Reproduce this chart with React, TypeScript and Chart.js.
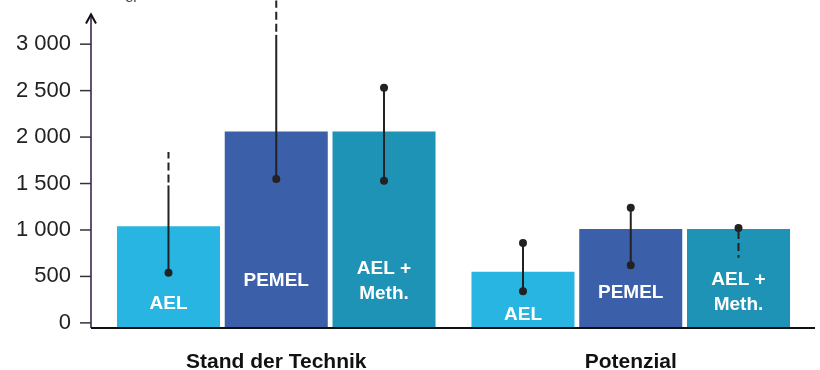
import React, { useEffect, useRef } from "react";
import { Chart, registerables } from "chart.js";

Chart.register(...registerables);

// ---- data ----
const CATEGORIES = ["Stand der Technik", "Potenzial"];
const SERIES = ["AEL", "PEMEL", "AEL + Meth."];
const BAR_TEXT = [["AEL"], ["PEMEL"], ["AEL +", "Meth."]];

const AEL = [1040, 550];
const PEMEL = [2060, 1010];
const AEL_METH = [2060, 1010];

// ranges (solid part), with dashed extensions
const AEL_LOW = [540, 340];
const AEL_HIGH = [1480, 860];
const AEL_DASH_HIGH: (number | null)[] = [1840, null];
const AEL_DASH_LOW: (number | null)[] = [null, null];

const PEMEL_LOW = [1550, 620];
const PEMEL_HIGH = [3100, 1240];
const PEMEL_DASH_HIGH: (number | null)[] = [3470, null];
const PEMEL_DASH_LOW: (number | null)[] = [null, null];

const METH_LOW = [1530, 1020];
const METH_HIGH = [2530, 1020];
const METH_DASH_HIGH: (number | null)[] = [null, null];
const METH_DASH_LOW: (number | null)[] = [null, 700];

const Y_TICKS = [0, 500, 1000, 1500, 2000, 2500, 3000];
const Y_MIN = -55;
const Y_MAX = 3400;
const AXIS_TOP = 3320;

const UNIT_TEXT = "in €/kW";
const UNIT_SUB = "el";

const COLORS = ["#29b5e1", "#3b5fa8", "#1e93b6"];

const LOWS = [AEL_LOW, PEMEL_LOW, METH_LOW];
const HIGHS = [AEL_HIGH, PEMEL_HIGH, METH_HIGH];
const DASH_HIGHS = [AEL_DASH_HIGH, PEMEL_DASH_HIGH, METH_DASH_HIGH];
const DASH_LOWS = [AEL_DASH_LOW, PEMEL_DASH_LOW, METH_DASH_LOW];

// label lift above bar base, per category then per series (px)
const LABEL_LIFT = [
  [24, 47, 47],
  [13, 35, 36],
];

const FONT = "'Liberation Sans', Arial, Helvetica, sans-serif";

function fmt(v: number) {
  return String(v).replace(/\B(?=(\d{3})+(?!\d))/g, " ");
}

const overlay = {
  id: "overlay",
  afterDatasetsDraw(chart: any) {
    const ctx = chart.ctx as CanvasRenderingContext2D;
    const ys = chart.scales.y;
    const area = chart.chartArea;
    ctx.save();

    // labels inside bars
    ctx.fillStyle = "#ffffff";
    ctx.font = `bold 19px ${FONT}`;
    ctx.textAlign = "center";
    ctx.textBaseline = "middle";
    chart.data.datasets.forEach((_ds: any, i: number) => {
      const meta = chart.getDatasetMeta(i);
      meta.data.forEach((bar: any, j: number) => {
        const lines = BAR_TEXT[i];
        const center = bar.base - LABEL_LIFT[j][i];
        lines.forEach((t, k) => {
          ctx.fillText(t, bar.x, center + (k - (lines.length - 1) / 2) * 25);
        });
      });
    });

    // range markers
    ctx.strokeStyle = "#222222";
    ctx.fillStyle = "#222222";
    ctx.lineWidth = 2;
    chart.data.datasets.forEach((_ds: any, i: number) => {
      const meta = chart.getDatasetMeta(i);
      meta.data.forEach((bar: any, j: number) => {
        const x = bar.x;
        const lo = LOWS[i][j];
        const hi = HIGHS[i][j];
        const dh = DASH_HIGHS[i][j];
        const dl = DASH_LOWS[i][j];
        const pLo = ys.getPixelForValue(lo);
        const pHi = ys.getPixelForValue(hi);
        ctx.setLineDash([]);
        ctx.beginPath();
        ctx.moveTo(x, pLo);
        ctx.lineTo(x, pHi);
        ctx.stroke();
        ctx.setLineDash([8, 4]);
        if (dh != null) {
          ctx.beginPath();
          ctx.moveTo(x, pHi - 3);
          ctx.lineTo(x, ys.getPixelForValue(dh));
          ctx.stroke();
        }
        if (dl != null) {
          ctx.beginPath();
          ctx.moveTo(x, pLo + 3);
          ctx.lineTo(x, ys.getPixelForValue(dl));
          ctx.stroke();
        }
        ctx.setLineDash([]);
        if (dl == null) {
          ctx.beginPath();
          ctx.arc(x, pLo, 4, 0, Math.PI * 2);
          ctx.fill();
        }
        if (dh == null) {
          ctx.beginPath();
          ctx.arc(x, pHi, 4, 0, Math.PI * 2);
          ctx.fill();
        }
      });
    });

    // axes
    const axisX = area.left - 8;
    const baseY = ys.getPixelForValue(Y_MIN);
    const tipY = ys.getPixelForValue(AXIS_TOP);
    ctx.strokeStyle = "#3d2550";
    ctx.lineWidth = 1.6;
    ctx.beginPath();
    ctx.moveTo(axisX, baseY);
    ctx.lineTo(axisX, tipY + 1);
    ctx.stroke();
    ctx.strokeStyle = "#111111";
    ctx.lineWidth = 2;
    ctx.beginPath();
    ctx.moveTo(axisX - 5, tipY + 9);
    ctx.lineTo(axisX, tipY);
    ctx.lineTo(axisX + 5, tipY + 9);
    ctx.stroke();

    ctx.strokeStyle = "#333333";
    ctx.lineWidth = 1.5;
    Y_TICKS.forEach((v) => {
      const py = ys.getPixelForValue(v);
      ctx.beginPath();
      ctx.moveTo(axisX - 11, py);
      ctx.lineTo(axisX, py);
      ctx.stroke();
    });

    ctx.strokeStyle = "#111111";
    ctx.lineWidth = 2;
    ctx.beginPath();
    ctx.moveTo(axisX, baseY);
    ctx.lineTo(chart.width - 5, baseY);
    ctx.stroke();

    // clipped unit text at top
    ctx.fillStyle = "#444444";
    ctx.textAlign = "right";
    ctx.textBaseline = "alphabetic";
    ctx.font = `20px ${FONT}`;
    ctx.fillText(UNIT_TEXT, axisX + 32, -1);
    ctx.textAlign = "left";
    ctx.font = `15px ${FONT}`;
    ctx.fillText(UNIT_SUB, axisX + 34, 2);

    ctx.restore();
  },
};

export default function App() {
  const ref = useRef<HTMLCanvasElement | null>(null);

  useEffect(() => {
    if (!ref.current) return;
    const seriesData = [AEL, PEMEL, AEL_METH];
    const chart = new Chart(ref.current, {
      type: "bar",
      data: {
        labels: CATEGORIES,
        datasets: SERIES.map((name, i) => ({
          label: name,
          data: seriesData[i],
          backgroundColor: COLORS[i],
          borderWidth: 0,
          base: Y_MIN,
          categoryPercentage: 0.912,
          barPercentage: 0.956,
        })),
      },
      options: {
        responsive: false,
        animation: false,
        devicePixelRatio: 1,
        layout: { autoPadding: false, padding: { top: 7, right: 12, left: 0, bottom: 0 } },
        plugins: {
          legend: { display: false },
          tooltip: { enabled: false },
        },
        scales: {
          x: {
            grid: { display: false },
            border: { display: false },
            ticks: {
              color: "#111111",
              font: { family: FONT, size: 21, weight: "bold" },
              padding: 14,
            },
            afterFit: (s: any) => {
              s.height = 42;
              s.paddingLeft = 0;
              s.paddingRight = 0;
            },
          },
          y: {
            min: Y_MIN,
            max: Y_MAX,
            grid: { display: false },
            border: { display: false },
            ticks: {
              stepSize: 500,
              color: "#222222",
              font: { family: FONT, size: 22 },
              padding: 20,
              callback: (v: any) => fmt(Number(v)),
            },
            afterBuildTicks: (s: any) => {
              s.ticks = Y_TICKS.map((v) => ({ value: v }));
            },
            afterFit: (s: any) => {
              s.width = 99;
              s.paddingTop = 0;
              s.paddingBottom = 0;
            },
          },
        },
      },
      plugins: [overlay],
    });
    return () => chart.destroy();
  }, []);

  return (
    <div style={{ position: "absolute", left: 0, top: 0, width: 820, height: 370, background: "#fff" }}>
      <canvas ref={ref} width={820} height={370} style={{ width: 820, height: 370, display: "block" }} />
    </div>
  );
}
